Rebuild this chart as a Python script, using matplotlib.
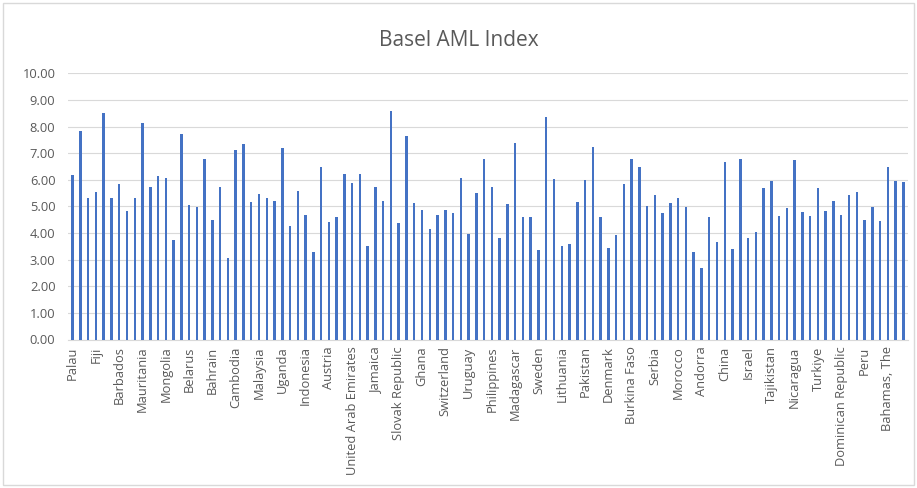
import matplotlib
matplotlib.use("Agg")
import matplotlib.pyplot as plt
import numpy as np
from matplotlib.patches import Rectangle

# every third country is labelled on the axis in the source chart
labels = ['Palau', 'Fiji', 'Barbados', 'Mauritania', 'Mongolia', 'Belarus', 'Bahrain',
          'Cambodia', 'Malaysia', 'Uganda', 'Indonesia', 'Austria', 'United Arab Emirates',
          'Jamaica', 'Slovak Republic', 'Ghana', 'Switzerland', 'Uruguay', 'Philippines',
          'Madagascar', 'Sweden', 'Lithuania', 'Pakistan', 'Denmark', 'Burkina Faso',
          'Serbia', 'Morocco', 'Andorra', 'China', 'Israel', 'Tajikistan', 'Nicaragua',
          'Turkiye', 'Dominican Republic', 'Peru', 'Bahamas, The']

scores = [6.18, 7.83, 5.30, 5.55, 8.50, 5.30, 5.83, 4.84, 5.30, 8.12,
          5.74, 6.15, 6.08, 3.73, 7.72, 5.05, 4.99, 6.77, 4.49, 5.74,
          3.05, 7.12, 7.34, 5.18, 5.45, 5.30, 5.21, 7.18, 4.27, 5.58,
          4.67, 3.30, 6.49, 4.42, 4.61, 6.20, 5.89, 6.20, 3.51, 5.74,
          5.20, 8.58, 4.36, 7.64, 5.11, 4.86, 4.14, 4.67, 4.86, 4.74,
          6.08, 3.98, 5.51, 6.77, 5.74, 3.83, 5.08, 7.37, 4.61, 4.61,
          3.36, 8.35, 6.02, 3.51, 3.58, 5.18, 5.99, 7.24, 4.61, 3.45,
          3.92, 5.83, 6.77, 6.49, 5.03, 5.43, 4.74, 5.11, 5.30, 4.96,
          3.30, 2.69, 4.61, 3.65, 6.68, 3.40, 6.77, 3.80, 4.02, 5.70,
          5.95, 4.64, 4.95, 6.74, 4.80, 4.65, 5.70, 4.84, 5.21, 4.67,
          5.43, 5.53, 4.49, 4.99, 4.46, 6.47, 5.96, 5.90]

txt = '#595959'
plt.rcParams['font.family'] = ['Open Sans', 'DejaVu Sans']

fig = plt.figure(figsize=(9.17, 4.88), dpi=100)
ax = fig.add_axes([68 / 917, 1 - 339.5 / 488, 840 / 917, 266.2 / 488])

x = np.arange(len(scores))
ax.bar(x, scores, width=0.32, color='#4472C4', zorder=3)

ax.set_ylim(0, 10)
ax.set_yticks(np.arange(0, 11, 1))
ax.set_yticklabels([f'{v:.2f}' for v in range(11)])
ax.set_xlim(-0.6, len(scores) - 0.4)
ax.set_xticks(x[::3])
ax.set_xticklabels(labels, rotation=90)

ax.grid(axis='y', color='#d9d9d9', linewidth=0.8, zorder=0)
for s in ['top', 'right', 'left']:
    ax.spines[s].set_visible(False)
ax.spines['bottom'].set_color('#d9d9d9')
ax.tick_params(axis='both', length=0, colors=txt, labelsize=9.3)
ax.tick_params(axis='y', pad=9)
ax.tick_params(axis='x', pad=5)

fig.text(0.5, 1 - 40 / 488, 'Basel AML Index', ha='center', va='center',
         fontsize=15, color=txt)

fig.patches.append(Rectangle((3 / 917, 3 / 488), 911 / 917, 482 / 488,
                             transform=fig.transFigure, fill=False,
                             edgecolor='#d9d9d9', linewidth=1))

fig.savefig('out.png', dpi=100)
